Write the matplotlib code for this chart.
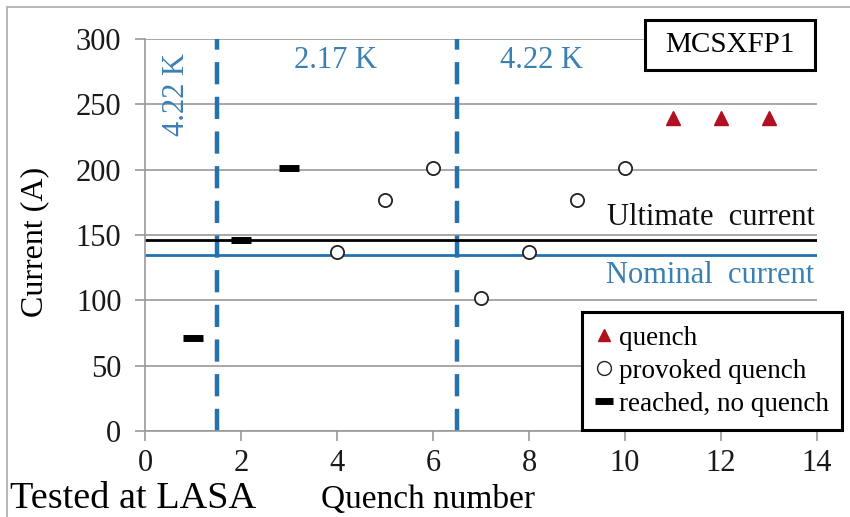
"""Quench history of MCSXFP1 tested at LASA."""

import matplotlib
matplotlib.use("Agg")
import matplotlib.pyplot as plt
from matplotlib.lines import Line2D
from matplotlib.patches import Rectangle

plt.rcParams["font.family"] = ["Liberation Serif", "DejaVu Serif"]

# data
reached_x = [1, 2, 3]
reached_y = [71, 146, 201]
provoked_x = [4, 5, 6, 7, 8, 9, 10]
provoked_y = [137, 177, 201, 102, 137, 177, 201]
quench_x = [11, 12, 13]
quench_y = [240, 240, 240]
ultimate_current = 146
nominal_current = 135
temp_changes = [1.5, 6.5]
x_ticks = [0, 2, 4, 6, 8, 10, 12, 14]
y_ticks = [0, 50, 100, 150, 200, 250, 300]

BLUE = "#2272b0"
TEXT_BLUE = "#3a80b2"
RED = "#b01020"
GREY = "#999999"

fig = plt.figure(figsize=(8.5, 5.17), dpi=100)

# outer frame of the original slide
fig.patches.append(Rectangle((7 / 850, -0.1), 1.2, 1.1 - 7 / 517, transform=fig.transFigure,
                             fill=False, edgecolor="#aaaaaa", linewidth=1.2))

ax = fig.add_axes([0.1706, 0.1663, 0.7906, 0.758])

ax.set_xlim(0, 14)
ax.set_ylim(0, 300)
ax.set_xticks(x_ticks)
ax.set_yticks(y_ticks)
ax.tick_params(axis="both", labelsize=22, colors="#1a1a1a", length=7,
               width=1.2, direction="out", color=GREY)
ax.tick_params(axis="y", pad=10)
ax.tick_params(axis="x", pad=6)
ax.grid(axis="y", color=GREY, linewidth=1.2)
ax.set_axisbelow(True)
for side in ["top", "right"]:
    ax.spines[side].set_visible(False)
for side in ["left", "bottom"]:
    ax.spines[side].set_color(GREY)
    ax.spines[side].set_linewidth(1.2)

# temperature boundaries
for xv in temp_changes:
    ax.axvline(xv, color=BLUE, linewidth=3.2, linestyle=(0, (5, 2.8)), zorder=2)

# current levels
ax.axhline(ultimate_current, color="black", linewidth=2, zorder=2)
ax.axhline(nominal_current, color=BLUE, linewidth=2, zorder=2)
ax.text(13.95, ultimate_current + 6, "Ultimate  current", ha="right", va="bottom",
        fontsize=22, color="#111111")
ax.text(13.95, nominal_current - 5, "Nominal  current", ha="right", va="top",
        fontsize=22, color=TEXT_BLUE)

ax.text(0.66, 258, "4.22 K", rotation=90, ha="center", va="center",
        fontsize=22, color=TEXT_BLUE)
ax.text(3.96, 284, "2.17 K", ha="center", va="center", fontsize=22, color=TEXT_BLUE)
ax.text(8.25, 284, "4.22 K", ha="center", va="center", fontsize=22, color=TEXT_BLUE)

# data points
ax.plot(reached_x, reached_y, linestyle="none", marker="_", markersize=14,
        markeredgewidth=5, color="black", zorder=4)
ax.plot(provoked_x, provoked_y, linestyle="none", marker="o", markersize=9.5,
        markerfacecolor="white", markeredgecolor="#222222", markeredgewidth=1.3, zorder=4)
ax.plot(quench_x, quench_y, linestyle="none", marker="^", markersize=9.5,
        color=RED, zorder=4)

fig.text(0.041, 0.532, "Current (A)", rotation=90, ha="center", va="center", fontsize=23)
fig.text(0.503, 0.033, "Quench number", ha="center", va="center", fontsize=24)
fig.text(0.012, 0.036, "Tested at LASA", ha="left", va="center", fontsize=27.5)

# magnet name box
fig.patches.append(Rectangle((645 / 850, 1 - 70 / 517), 170 / 850, 50 / 517,
                             transform=fig.transFigure, facecolor="white",
                             edgecolor="black", linewidth=2.2, zorder=5))
fig.text(730 / 850, 1 - 45 / 517, "MCSXFP1", ha="center", va="center", fontsize=21,
         zorder=6)

handles = [
    Line2D([], [], linestyle="none", marker="^", markersize=9, color=RED),
    Line2D([], [], linestyle="none", marker="o", markersize=10,
           markerfacecolor="white", markeredgecolor="#222222"),
    Line2D([], [], linestyle="none", marker="_", markersize=13,
           markeredgewidth=5, color="black"),
]
labels = ["quench", "provoked quench", "reached, no quench"]
leg = fig.legend(handles, labels, loc="upper left", bbox_to_anchor=(582 / 850, 1 - 312 / 517),
                 fontsize=19.5, frameon=True, fancybox=False, handlelength=0.6,
                 handletextpad=0.25, labelspacing=0.3, borderpad=0.5,
                 borderaxespad=0, framealpha=1)
leg.get_frame().set_edgecolor("black")
leg.get_frame().set_linewidth(2.2)

fig.savefig("out.png", dpi=100)
